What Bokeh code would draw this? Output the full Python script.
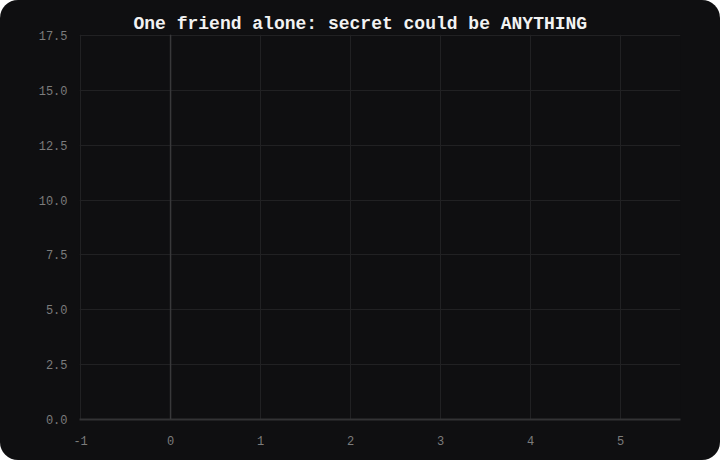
from bokeh.plotting import figure
from bokeh.models import FixedTicker, Span, Range1d, PrintfTickFormatter
from bokeh.embed import file_html
from bokeh.resources import INLINE

# Data (the chart shows no plotted series, only the axes frame)
x_ticks = [-1, 0, 1, 2, 3, 4, 5]
y_ticks = [0.0, 2.5, 5.0, 7.5, 10.0, 12.5, 15.0, 17.5]
x_range = (-1.012, 5.667)
y_range = (0, 17.545)
zero_line_x = 0
title_text = "One friend alone: secret could be ANYTHING"

BG = "#0f0f11"
OUTER = "#080809"
MONO = "Liberation Mono"

p = figure(width=720, height=460, output_backend="svg", toolbar_location=None,
           x_range=Range1d(*x_range), y_range=Range1d(*y_range),
           background_fill_color=BG, border_fill_color=None,
           min_border_left=79, min_border_right=40, min_border_top=34, min_border_bottom=41)
p.outline_line_color = None

p.title.text = title_text
p.title.text_font = MONO
p.title.text_font_size = "18px"
p.title.text_font_style = "bold"
p.title.text_color = "#f2f2f2"
p.title.align = "left"
p.title.offset = 54
p.title.standoff = 1

for ax in (p.xaxis, p.yaxis):
    ax.major_tick_line_color = None
    ax.minor_tick_line_color = None
    ax.major_label_text_font = MONO
    ax.major_label_text_font_size = "12px"
    ax.major_label_text_color = "#7c7c7c"
p.xaxis.ticker = FixedTicker(ticks=x_ticks)
p.yaxis.ticker = FixedTicker(ticks=y_ticks)
p.xaxis.formatter = PrintfTickFormatter(format="%d")
p.yaxis.formatter = PrintfTickFormatter(format="%.1f")
p.xaxis.axis_line_color = "#333335"
p.xaxis.axis_line_width = 2
p.yaxis.axis_line_color = None
p.xaxis.major_label_standoff = 10
p.yaxis.major_label_standoff = 6

p.xgrid.ticker = FixedTicker(ticks=x_ticks)
p.ygrid.ticker = FixedTicker(ticks=y_ticks)
p.xgrid.grid_line_color = "#212123"
p.ygrid.grid_line_color = "#212123"

p.add_layout(Span(location=zero_line_x, dimension="height", line_color="#38383a", line_width=1.5))

p.styles = {"background-color": BG, "border-radius": "18px"}

html = file_html(p, INLINE)
html = html.replace("<body>", '<body style="margin:0;background:%s;">' % OUTER, 1)
open("out.html", "w").write(html)
